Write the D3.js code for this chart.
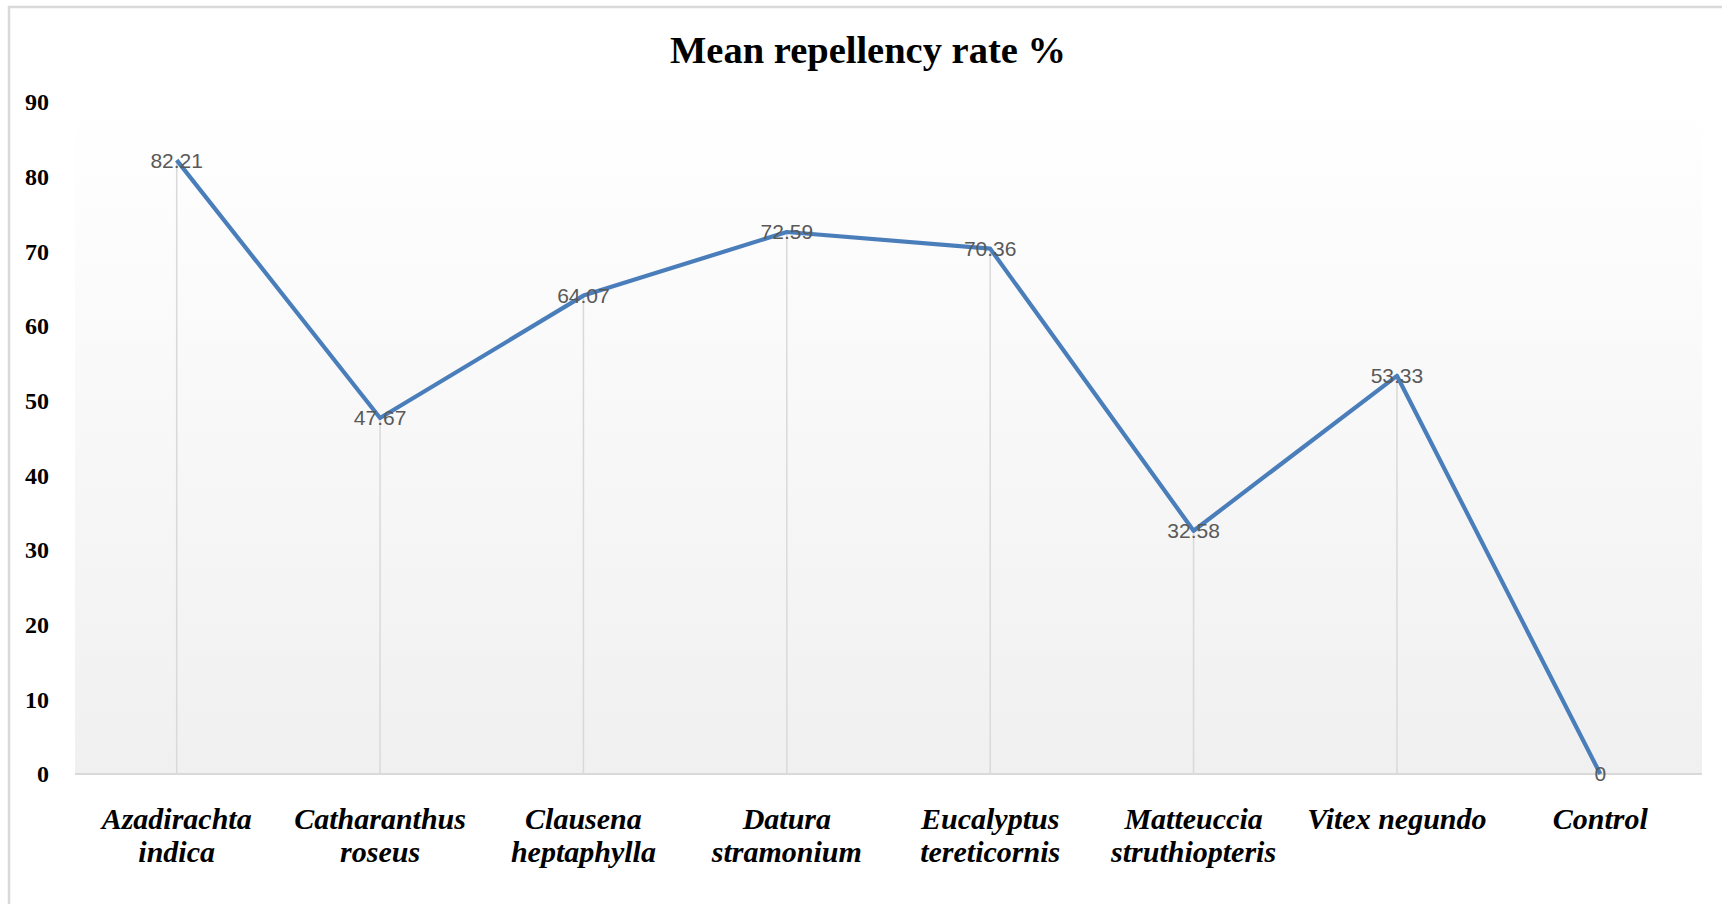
<!DOCTYPE html>
<html><head><meta charset="utf-8">
<script src="https://cdn.jsdelivr.net/npm/d3@7"></script>
<style>html,body{margin:0;padding:0;background:#fff;overflow:hidden}</style>
</head><body>
<svg id="c" width="1722" height="904"></svg>
<script>
const categories = ["Azadirachta indica","Catharanthus roseus","Clausena heptaphylla","Datura stramonium","Eucalyptus tereticornis","Matteuccia struthiopteris","Vitex negundo","Control"];
const tickLines = [["Azadirachta","indica"],["Catharanthus","roseus"],["Clausena","heptaphylla"],["Datura","stramonium"],["Eucalyptus","tereticornis"],["Matteuccia","struthiopteris"],["Vitex negundo"],["Control"]];
const values = [82.21, 47.67, 64.07, 72.59, 70.36, 32.58, 53.33, 0];
const valueLabels = ["82.21","47.67","64.07","72.59","70.36","32.58","53.33","0"];
const yTicks = [0,10,20,30,40,50,60,70,80,90];
const title = "Mean repellency rate %";

const svg = d3.select("#c");
const L = 75, R = 1702, T = 102, B = 774;

// outer chart border
svg.append("rect").attr("x",9).attr("y",7).attr("width",1740).attr("height",960)
  .attr("fill","#fff").attr("stroke","#d9d9d9").attr("stroke-width",2.5);

const defs = svg.append("defs");
const g = defs.append("linearGradient").attr("id","bg").attr("x1",0).attr("y1",0).attr("x2",0).attr("y2",1);
g.append("stop").attr("offset","0%").attr("stop-color","#ffffff");
g.append("stop").attr("offset","100%").attr("stop-color","#f0f0f0");

const x = d3.scaleBand().domain(categories).range([L,R]).padding(0);
const y = d3.scaleLinear().domain([0,90]).range([B,T]);

svg.append("rect").attr("x",L).attr("y",T).attr("width",R-L).attr("height",B-T).attr("fill","url(#bg)");

// title
svg.append("text").attr("x",868).attr("y",63).attr("text-anchor","middle")
  .attr("font-family","Liberation Serif, Times New Roman, serif").attr("font-weight","bold")
  .attr("font-size",38.5).attr("fill","#000").text(title);

// y axis
const yAxis = d3.axisLeft(y).tickValues(yTicks).tickSize(0).tickPadding(0);
const ya = svg.append("g").attr("transform",`translate(49,0)`).call(yAxis);
ya.select(".domain").remove();
ya.selectAll("text").attr("font-family","Liberation Serif, Times New Roman, serif")
  .attr("font-weight","bold").attr("font-size",24).attr("fill","#000");

// drop lines
const cx = d => x(d) + x.bandwidth()/2;
svg.append("g").selectAll("line").data(categories).join("line")
  .attr("x1",d=>cx(d)).attr("x2",d=>cx(d))
  .attr("y1",(d,i)=>y(values[i])).attr("y2",B)
  .attr("stroke","#d9d9d9").attr("stroke-width",1.5);

// baseline
svg.append("line").attr("x1",L).attr("x2",R).attr("y1",B).attr("y2",B)
  .attr("stroke","#d9d9d9").attr("stroke-width",2);

// x labels
const xa = svg.append("g");
tickLines.forEach((lines,i)=>{
  const t = xa.append("text").attr("x",cx(categories[i])).attr("y",829).attr("text-anchor","middle")
    .attr("font-family","Liberation Serif, Times New Roman, serif").attr("font-weight","bold")
    .attr("font-style","italic").attr("font-size",30).attr("fill","#000");
  lines.forEach((ln,j)=>t.append("tspan").attr("x",cx(categories[i])).attr("dy",j?33:0).text(ln));
});

// line
const line = d3.line().x((d,i)=>cx(categories[i])).y(d=>y(d));
svg.append("path").datum(values).attr("d",line).attr("fill","none")
  .attr("stroke","#4a7ebb").attr("stroke-width",4.2).attr("stroke-linejoin","round");

// data labels
svg.append("g").selectAll("text").data(values).join("text")
  .attr("x",(d,i)=>cx(categories[i])).attr("y",d=>y(d))
  .attr("dy","0.35em").attr("text-anchor","middle")
  .attr("font-family","Liberation Sans, Arial, sans-serif").attr("font-size",21)
  .attr("fill","#595959").text((d,i)=>valueLabels[i]);
</script>
</body></html>
